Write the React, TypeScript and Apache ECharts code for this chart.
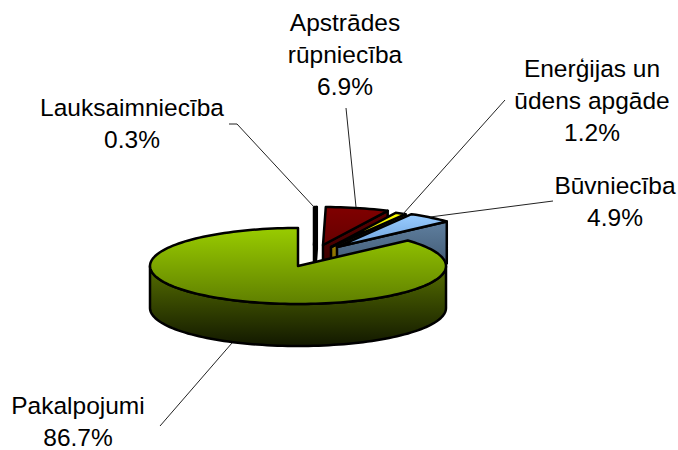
import React, { useEffect, useRef } from "react";
import * as echarts from "echarts";

const categories = ["Lauksaimniecība", "Apstrādes\nrūpniecība", "Enerģijas un\nūdens apgāde", "Būvniecība", "Pakalpojumi"];
const shares = [0.3, 6.9, 1.2, 4.9, 86.7];

const sliceOffsets = [[16, -21], [25, -21], [33, -19], [39, -19], [0, 0]];
const topColors = [["#000000", "#000000"], ["#800000", "#660000"], ["#ffff00", "#cccc00"], ["#99ccff", "#6fa3dc"], ["#99cc00", "#5f7f00"]];
const wallColors = [["#000000", "#000000"], ["#5c0000", "#2e0000"], ["#a88a00", "#7a6400"], ["#5f7f9f", "#33485e"], ["#566f00", "#121800"]];
const labelCenters = [[132, 107], [345, 22], [592, 68], [615, 185], [78, 405]];
const LINE_STEP = 32;
const leaderLines = [
  [[229, 124], [237, 124], [314, 207]],
  [[346, 108], [356, 207]],
  [[505, 100], [403, 214]],
  [[553, 201], [430, 217]],
  [[160, 426], [232, 343]],
];

const CX = 298, CY = 266, RX = 148, RY = 38, DEPTH = 42;

const pt = (ox: number, oy: number, deg: number, dz = 0) => {
  const a = (deg * Math.PI) / 180;
  return [CX + ox + RX * Math.sin(a), CY + oy - RY * Math.cos(a) + dz];
};
const arc = (ox: number, oy: number, from: number, to: number, dz = 0) => {
  const pts: number[][] = [];
  const n = Math.max(2, Math.ceil(Math.abs(to - from) / 2));
  for (let i = 0; i <= n; i++) pts.push(pt(ox, oy, from + ((to - from) * i) / n, dz));
  return pts;
};
const grad = (c: string[]) =>
  new echarts.graphic.LinearGradient(0, 0, 0, 1, [
    { offset: 0, color: c[0] },
    { offset: 1, color: c[1] },
  ]);

const total = shares.reduce((a, b) => a + b, 0);

const renderItem = (params: any, api: any) => {
  const i = params.dataIndex;
  const before = shares.slice(0, i).reduce((a, b) => a + b, 0);
  const start = (before / total) * 360;
  const end = start + (api.value(0) / total) * 360;
  const [ox, oy] = sliceOffsets[i];
  const apex = [CX + ox, CY + oy];
  const children: any[] = [];
  const stroke = { stroke: "#000", lineWidth: 2.5, lineJoin: "round" };
  const e = pt(ox, oy, end);
  if (end < 180) {
    children.push({
      type: "polygon",
      shape: { points: [apex, e, [e[0], e[1] + DEPTH], [apex[0], apex[1] + DEPTH]] },
      style: { fill: grad(wallColors[i]), ...stroke },
    });
  }
  const from = Math.max(start, 90), to = Math.min(end, 270);
  if (to > from) {
    children.push({
      type: "polygon",
      shape: { points: [...arc(ox, oy, from, to), ...arc(ox, oy, to, from, DEPTH)] },
      style: { fill: grad(wallColors[i]), ...stroke },
    });
  }
  children.push({
    type: "polygon",
    shape: { points: [apex, ...arc(ox, oy, start, end)] },
    style: { fill: grad(topColors[i]), ...stroke },
  });
  return { type: "group", children };
};

const labelTexts = categories.flatMap((c, i) => {
  const lines = [...c.split("\n"), `${shares[i].toFixed(1)}%`];
  return lines.map((text, j) => ({
    type: "text",
    x: labelCenters[i][0],
    y: labelCenters[i][1] + j * LINE_STEP,
    style: {
      text,
      font: '24.5px "Liberation Sans", Arial, sans-serif',
      fill: "#000",
      align: "center",
      verticalAlign: "middle",
    },
    z: 6,
  }));
});

export default function App() {
  const ref = useRef<HTMLDivElement>(null);
  useEffect(() => {
    document.body.style.margin = "0";
    const chart = echarts.init(ref.current!, undefined, { renderer: "svg" });
    chart.setOption({
      animation: false,
      backgroundColor: "#ffffff",
      series: [
        {
          type: "custom",
          coordinateSystem: "none",
          renderItem,
          data: shares.map((v) => [v]),
          silent: true,
        },
      ],
      graphic: [
        ...leaderLines.map((pts) => ({
          type: "polyline",
          shape: { points: pts },
          style: { stroke: "#222", lineWidth: 1, fill: "none" },
          z: 5,
        })),
        ...labelTexts,
      ],
    });
    return () => chart.dispose();
  }, []);
  return <div ref={ref} style={{ width: 678, height: 450 }} />;
}
